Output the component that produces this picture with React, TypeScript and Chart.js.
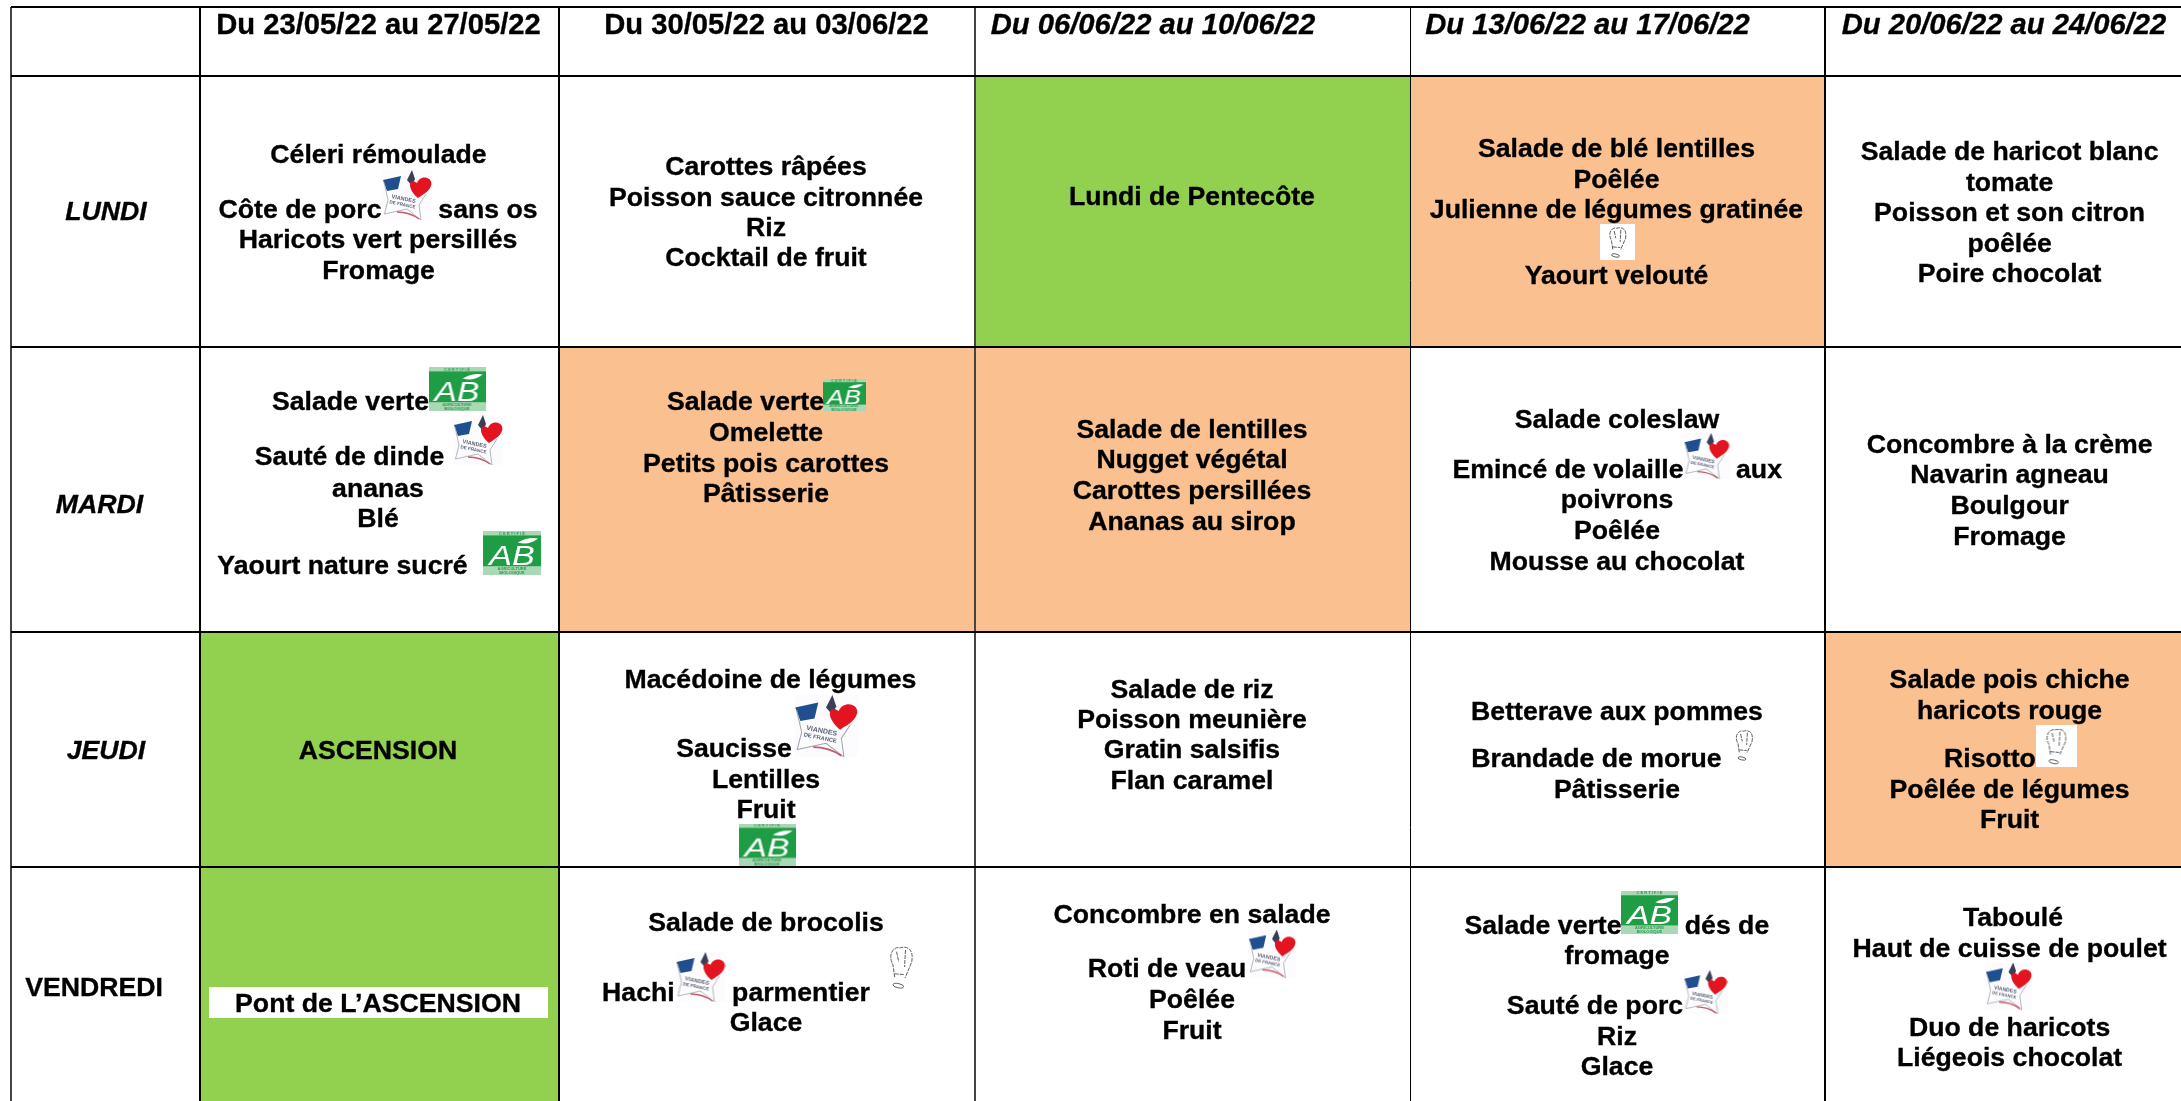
import React, { useEffect, useRef } from "react";
import { Chart, registerables } from "chart.js";

Chart.register(...registerables);

// ---------- data ----------
const WEEKS = ["Du 23/05/22 au 27/05/22", "Du 30/05/22 au 03/06/22", "Du 06/06/22 au 10/06/22", "Du 13/06/22 au 17/06/22", "Du 20/06/22 au 24/06/22"];
const DAYS = ["LUNDI", "MARDI", "JEUDI", "VENDREDI"];

const MENU_LUNDI = [
  "Céleri rémoulade", "Côte de porc", "sans os", "Haricots vert persillés", "Fromage",
  "Carottes râpées", "Poisson sauce citronnée", "Riz", "Cocktail de fruit",
  "Lundi de Pentecôte",
  "Salade de blé lentilles", "Poêlée", "Julienne de légumes gratinée", "Yaourt velouté",
  "Salade de haricot blanc", "tomate", "Poisson et son citron", "poêlée", "Poire chocolat",
];
const MENU_MARDI = [
  "Salade verte", "Sauté de dinde", "ananas", "Blé", "Yaourt nature sucré",
  "Salade verte", "Omelette", "Petits pois carottes", "Pâtisserie",
  "Salade de lentilles", "Nugget végétal", "Carottes persillées", "Ananas au sirop",
  "Salade coleslaw", "Emincé de volaille", "aux", "poivrons", "Poêlée", "Mousse au chocolat",
  "Concombre à la crème", "Navarin agneau", "Boulgour", "Fromage",
];
const MENU_JEUDI = [
  "ASCENSION",
  "Macédoine de légumes", "Saucisse", "Lentilles", "Fruit",
  "Salade de riz", "Poisson meunière", "Gratin salsifis", "Flan caramel",
  "Betterave aux pommes", "Brandade de morue", "Pâtisserie",
  "Salade pois chiche", "haricots rouge", "Risotto", "Poêlée de légumes", "Fruit",
];
const MENU_VENDREDI = [
  "Pont de L’ASCENSION",
  "Salade de brocolis", "Hachi", "parmentier", "Glace",
  "Concombre en salade", "Roti de veau", "Poêlée", "Fruit",
  "Salade verte", "dés de", "fromage", "Sauté de porc", "Riz", "Glace",
  "Taboulé", "Haut de cuisse de poulet", "Duo de haricots", "Liégeois chocolat",
];

// ---------- layout (axis units are the table's own grid) ----------
const COLUMN_EDGES = [11, 200, 559, 975, 1410, 1825];
const ROW_EDGES = [7, 76, 347, 632, 867];
const WEEK_POS = [[378.5, 34], [766.5, 34], [1153, 34], [1587.5, 34], [2004, 34]];
const DAY_POS = [[106, 220], [99.5, 513], [106, 759], [94, 996]];

const POS_LUNDI = [
  [378.5, 163], [300, 218], [488, 218], [378, 248], [378.5, 279],
  [766, 175], [766, 206], [766, 236], [766, 266],
  [1192, 205],
  [1616.5, 157], [1616.5, 188], [1616.5, 218], [1616.5, 284],
  [2009.6, 160], [2009.6, 191], [2009.6, 221], [2009.6, 252], [2009.6, 282],
];
const POS_MARDI = [
  [350.5, 410], [349.6, 465], [378, 497], [378, 527], [342.5, 574],
  [745.5, 410], [766, 441], [766, 472], [766, 502],
  [1192, 438], [1192, 468], [1192, 499], [1192, 530],
  [1617, 428], [1568, 478], [1759, 478], [1617, 508], [1617, 539], [1617, 570],
  [2009.6, 453], [2009.6, 483], [2009.6, 514], [2009.6, 545],
];
const POS_JEUDI = [
  [378, 759],
  [770.4, 688], [734, 757], [766, 788], [766, 818],
  [1192, 698], [1192, 728], [1192, 758], [1192, 789],
  [1617, 720], [1596.5, 767], [1617, 798],
  [2009.6, 688], [2009.6, 719], [1990, 767], [2009.6, 798], [2009.6, 828],
];
const POS_VENDREDI = [
  [378, 1012],
  [766, 931], [638.4, 1001], [801, 1001], [766, 1031],
  [1192, 923], [1167, 977], [1192, 1008], [1192, 1039],
  [1543, 934], [1727, 934], [1617, 964], [1595, 1014], [1617, 1045], [1617, 1075],
  [2013, 926], [2009.6, 957], [2009.6, 1036], [2009.6, 1066],
];

const FILLS_GREEN = [[975, 1410, 76, 347], [200, 559, 632, 867], [200, 559, 867, 1101]];
const FILLS_ORANGE = [[1410, 1825, 76, 347], [559, 975, 347, 632], [975, 1410, 347, 632], [1825, 2181, 632, 867]];
const FILLS_WHITE = [[209, 548, 987, 1018]];

// [x, y, w, h]
const LOGOS_AB = [[457, 389, 57, 44], [844, 395, 43, 32], [512, 553, 58, 44], [767, 845, 57, 43], [1649.5, 912.5, 57, 43]];
const LOGOS_VF = [[407, 195, 50, 50], [478, 440, 50, 50], [1706.6, 456, 46, 46], [826, 726, 64, 62], [700.5, 977, 50, 50], [1272, 953.5, 48, 48], [1705.5, 992, 44, 44], [2008.5, 986, 47, 47]];
const LOGOS_CHEF = [[901, 967, 32, 50, 0], [1744, 745, 26, 36, 0], [1617.5, 242, 35, 36, 1], [2056, 746, 41, 42, 1]];

// ---------- logo pictures ----------
function newCanvas(w: number, h: number) {
  const c = document.createElement("canvas");
  c.width = Math.round(w);
  c.height = Math.round(h);
  return c;
}

function makeAB(w: number, h: number) {
  const c = newCanvas(w, h);
  const g = c.getContext("2d")!;
  const band = h * 0.1;
  g.fillStyle = "#1f9d45";
  g.fillRect(0, 0, w, h);
  g.fillStyle = "#a9d8b4";
  g.fillRect(0, 0, w, band);
  g.fillRect(0, h * 0.8, w, h * 0.2);
  g.fillStyle = "#2b9a4e";
  g.font = `bold ${Math.max(4, h * 0.09)}px "Liberation Sans"`;
  g.textAlign = "center";
  g.textBaseline = "middle";
  g.fillText("C E R T I F I É", w / 2, band * 0.55);
  g.font = `bold ${Math.max(4, h * 0.085)}px "Liberation Sans"`;
  g.fillText("AGRICULTURE", w / 2, h * 0.85);
  g.fillText("BIOLOGIQUE", w / 2, h * 0.95);
  g.fillStyle = "#ffffff";
  g.textBaseline = "alphabetic";
  g.save();
  g.translate(w * 0.5, h * 0.77);
  g.scale((w / h) * 0.95, 1);
  g.font = `italic ${h * 0.62}px "Liberation Sans"`;
  g.fillText("AB", 0, 0);
  g.restore();
  g.beginPath();
  g.moveTo(w * 0.6, h * 0.26);
  g.quadraticCurveTo(w * 0.78, h * 0.34, w * 0.95, h * 0.17);
  g.quadraticCurveTo(w * 0.78, h * 0.13, w * 0.6, h * 0.26);
  g.fill();
  return c;
}

function makeVF(w: number, h: number) {
  const c = newCanvas(w, h);
  const g = c.getContext("2d")!;
  g.fillStyle = "#fcfcfe";
  g.fillRect(0, 0, w, h);
  g.scale(w / 100, h / 100);
  g.fillStyle = "#1f4f8f";
  g.beginPath();
  g.moveTo(2, 20);
  g.lineTo(38, 12);
  g.lineTo(32, 38);
  g.lineTo(10, 42);
  g.closePath();
  g.fill();
  g.fillStyle = "#3a3f58";
  g.beginPath();
  g.moveTo(50, 20);
  g.lineTo(60, 0);
  g.lineTo(66, 18);
  g.lineTo(60, 32);
  g.closePath();
  g.fill();
  g.fillStyle = "#e3141f";
  g.beginPath();
  g.moveTo(72, 56);
  g.bezierCurveTo(48, 36, 54, 14, 70, 26);
  g.bezierCurveTo(78, 6, 108, 16, 96, 36);
  g.bezierCurveTo(90, 46, 80, 50, 72, 56);
  g.fill();
  g.strokeStyle = "#a0a4ae";
  g.lineWidth = 1.6;
  g.beginPath();
  g.moveTo(4, 24);
  g.lineTo(12, 60);
  g.lineTo(5, 88);
  g.lineTo(50, 78);
  g.lineTo(78, 100);
  g.lineTo(74, 70);
  g.lineTo(88, 48);
  g.stroke();
  g.save();
  g.translate(42, 64);
  g.rotate(0.2);
  g.fillStyle = "#5a5f74";
  g.font = 'bold 11px "Liberation Sans"';
  g.textAlign = "center";
  g.fillText("VIANDES", 0, -3);
  g.font = 'bold 9px "Liberation Sans"';
  g.fillText("DE FRANCE", 0, 8);
  g.restore();
  g.strokeStyle = "#c85a68";
  g.lineWidth = 3;
  g.beginPath();
  g.moveTo(30, 84);
  g.quadraticCurveTo(55, 84, 74, 98);
  g.stroke();
  return c;
}

function makeChef(w: number, h: number, bg: number) {
  const c = newCanvas(w, h);
  const g = c.getContext("2d")!;
  if (bg) {
    g.fillStyle = "#ffffff";
    g.fillRect(0, 0, w, h);
  }
  const hh = h * 0.85;
  const hw = Math.min(w * 0.7, hh * 0.55);
  const x0 = (w - hw) / 2;
  const y0 = (h - hh) / 2;
  g.strokeStyle = "#5e5e5e";
  g.lineWidth = 1;
  g.setLineDash([4, 1]);
  g.beginPath();
  g.moveTo(x0 + hw * 0.22, y0 + hh * 0.74);
  g.lineTo(x0 + hw * 0.14, y0 + hh * 0.45);
  g.bezierCurveTo(x0 - hw * 0.12, y0 + hh * 0.2, x0 + hw * 0.2, y0, x0 + hw * 0.45, y0 + hh * 0.05);
  g.bezierCurveTo(x0 + hw * 0.75, y0, x0 + hw * 1.08, y0 + hh * 0.06, x0 + hw * 0.98, y0 + hh * 0.38);
  g.lineTo(x0 + hw * 0.68, y0 + hh * 0.76);
  g.moveTo(x0 + hw * 0.22, y0 + hh * 0.66);
  g.lineTo(x0 + hw * 0.66, y0 + hh * 0.68);
  g.moveTo(x0 + hw * 0.3, y0 + hh * 0.14);
  g.lineTo(x0 + hw * 0.4, y0 + hh * 0.38);
  g.moveTo(x0 + hw * 0.7, y0 + hh * 0.1);
  g.lineTo(x0 + hw * 0.66, y0 + hh * 0.5);
  g.stroke();
  g.setLineDash([]);
  g.beginPath();
  g.ellipse(x0 + hw * 0.38, y0 + hh * 0.94, hw * 0.24, hh * 0.05, 0.2, 0, Math.PI * 2);
  g.stroke();
  return c;
}

// ---------- chart pieces ----------
const FONT = '"Liberation Sans", Arial, sans-serif';
const BODY_SIZE = 26.67;
const HEAD_SIZE = 29.2;

const fillDataset = (box: number[], color: string, order: number) => ({
  type: "scatter",
  label: "cell",
  data: [{ x: box[0], y: box[2] }, { x: box[1], y: box[2] }],
  showLine: true,
  borderWidth: 0,
  borderColor: color,
  backgroundColor: color,
  pointRadius: 0,
  fill: { value: box[3] },
  order,
});

const logoDataset = (list: number[][], make: (b: number[]) => HTMLCanvasElement) => ({
  type: "scatter",
  label: "logo",
  data: list.map((b) => ({ x: b[0], y: b[1] })),
  pointStyle: list.map(make),
  showLine: false,
  pointRadius: 10,
  order: 1,
});

const tableText = {
  id: "tableText",
  afterDraw(chart: any) {
    const { ctx, scales } = chart;
    const put = (t: string, p: number[], style: string, size: number) => {
      ctx.font = `${style} ${size}px ${FONT}`;
      const x = scales.x.getPixelForValue(p[0]);
      const y = scales.y.getPixelForValue(p[1]);
      ctx.fillText(t, x, y);
      ctx.strokeText(t, x, y);
    };
    ctx.save();
    ctx.fillStyle = "#000000";
    ctx.strokeStyle = "#000000";
    ctx.lineWidth = 0.35;
    ctx.textAlign = "center";
    ctx.textBaseline = "alphabetic";
    WEEKS.forEach((t, i) => put(t, WEEK_POS[i], i < 2 ? "bold" : "italic bold", HEAD_SIZE));
    DAYS.forEach((t, i) => put(t, DAY_POS[i], i < 3 ? "italic bold" : "bold", BODY_SIZE));
    MENU_LUNDI.forEach((t, i) => put(t, POS_LUNDI[i], "bold", BODY_SIZE));
    MENU_MARDI.forEach((t, i) => put(t, POS_MARDI[i], "bold", BODY_SIZE));
    MENU_JEUDI.forEach((t, i) => put(t, POS_JEUDI[i], "bold", BODY_SIZE));
    MENU_VENDREDI.forEach((t, i) => put(t, POS_VENDREDI[i], "bold", BODY_SIZE));
    ctx.restore();
  },
};

export default function App() {
  const ref = useRef<HTMLCanvasElement>(null);
  useEffect(() => {
    const chart = new Chart(ref.current!, {
      type: "scatter",
      data: {
        datasets: [
          ...FILLS_GREEN.map((b) => fillDataset(b, "#92d050", 4)),
          ...FILLS_ORANGE.map((b) => fillDataset(b, "#fac090", 4)),
          ...FILLS_WHITE.map((b) => fillDataset(b, "#ffffff", 3)),
          logoDataset(LOGOS_AB, (b) => makeAB(b[2], b[3])),
          logoDataset(LOGOS_VF, (b) => makeVF(b[2], b[3])),
          logoDataset(LOGOS_CHEF, (b) => makeChef(b[2], b[3], b[4])),
        ] as any,
      },
      options: {
        animation: false,
        responsive: false,
        devicePixelRatio: 1,
        layout: { autoPadding: false, padding: { left: 11, top: 7, right: 0, bottom: 0 } },
        plugins: { legend: { display: false }, tooltip: { enabled: false } },
        events: [],
        scales: {
          x: {
            type: "linear",
            min: 11,
            max: 2181,
            afterBuildTicks: (s: any) => { s.ticks = COLUMN_EDGES.map((value) => ({ value })); },
            ticks: { display: false, autoSkip: false },
            border: { display: false },
            grid: {
              z: 1,
              drawTicks: false,
              color: (c: any) => (c.index === 0 || c.index === 3 ? "#444444" : "#000000"),
              lineWidth: (c: any) => (c.index === 4 ? 1 : 2),
            },
          },
          y: {
            type: "linear",
            reverse: true,
            min: 7,
            max: 1101,
            afterBuildTicks: (s: any) => { s.ticks = ROW_EDGES.map((value) => ({ value })); },
            ticks: { display: false, autoSkip: false },
            border: { display: false },
            grid: { z: 1, drawTicks: false, color: "#000000", lineWidth: 2 },
          },
        },
      } as any,
      plugins: [tableText],
    });
    return () => chart.destroy();
  }, []);
  return (
    <div style={{ position: "absolute", left: 0, top: 0, width: 2181, height: 1101 }}>
      <canvas ref={ref} width={2181} height={1101} style={{ display: "block" }} />
    </div>
  );
}
